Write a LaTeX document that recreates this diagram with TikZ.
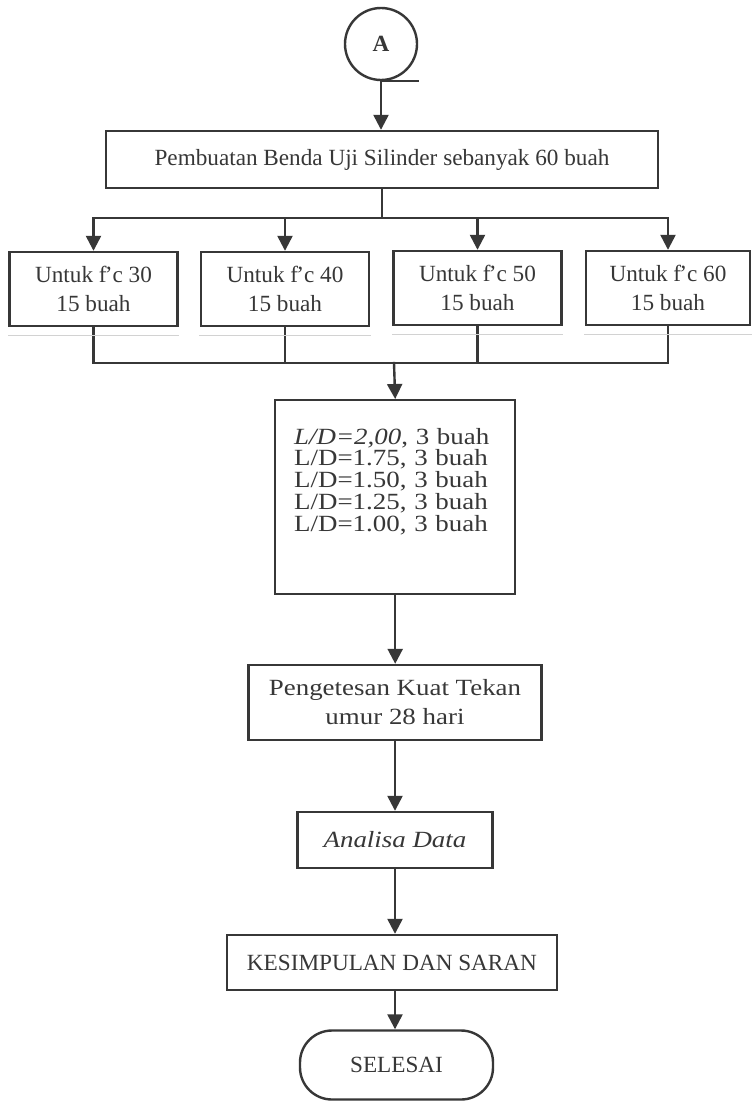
\documentclass[tikz,border=0pt]{standalone}
\usepackage{fontspec}
\setmainfont{Liberation Serif}
\newfontfamily\lebar{Liberation Serif}[FakeStretch=1.16]
\usetikzlibrary{arrows.meta}
\definecolor{tinta}{RGB}{55,55,55}
\newcommand{\fc}{f\kern-0.9pt’c}

\begin{document}
\begin{tikzpicture}[x=0.5pt,y=-0.5pt,color=tinta,line width=1.2pt,line cap=rect,
  kotak/.style={draw,rectangle,inner sep=0pt,align=center,font=\fontsize{11.6}{14.5}\selectfont},
  mutu/.style={kotak,minimum width=84pt,minimum height=37pt},
  panah/.style={-{Triangle[width=7.5pt,length=7.5pt]}},
  bayang/.style={draw=gray!35,line width=0.6pt}]
\fill[white] (0,0) rectangle (751,1102);
\useasboundingbox (0,0) rectangle (751,1102);
\node[draw,circle,minimum size=36pt,inner sep=0pt,font=\bfseries\fontsize{11.6}{14}\selectfont] (mulai) at (381,44) {A};
\node[kotak,minimum width=276pt,minimum height=28.5pt] (buat) at (382,159.5) {Pembuatan Benda Uji Silinder sebanyak 60 buah};
\node[mutu] (fc30) at (93.5,289) {Untuk \fc{} 30\\15 buah};
\node[mutu] (fc40) at (285,289) {Untuk \fc{} 40\\15 buah};
\node[mutu] (fc50) at (477.5,288) {Untuk \fc{} 50\\15 buah};
\node[mutu,minimum width=82pt] (fc60) at (668,288) {Untuk \fc{} 60\\15 buah};
\node[kotak,anchor=north west,align=left,text width=101pt,inner xsep=9.5pt,text height=22pt,text depth=75pt,
  font=\lebar\fontsize{11.6}{10.85}\selectfont] (rasio) at (274,399)
  {\textit{L/D=2,00}, 3 buah\\L/D=1.75, 3 buah\\L/D=1.50, 3 buah\\L/D=1.25, 3 buah\\L/D=1.00, 3 buah};
\node[kotak,minimum width=146.5pt,minimum height=37.5pt,font=\lebar\fontsize{11.6}{14.5}\selectfont] (uji) at (395,702.5) {Pengetesan Kuat Tekan\\umur 28 hari};
\node[kotak,minimum width=97.5pt,minimum height=28pt,font=\lebar\itshape\fontsize{11.6}{14.5}\selectfont] (analisa) at (395,840) {Analisa Data};
\node[kotak,minimum width=165pt,minimum height=27.5pt] (simpulan) at (392,962.5) {KESIMPULAN DAN SARAN};
\node[kotak,rounded corners=16pt,minimum width=96.5pt,minimum height=34.5pt] (selesai) at (396.5,1065) {SELESAI};
\coordinate (bagi) at (382,218);
\coordinate (gabung) at (394,363);
\draw (mulai.south) -- (mulai.south -| mulai.east);
\draw[panah] (mulai.south) -- (mulai.south |- buat.north);
\draw (buat.south) -- (bagi);
\draw (fc30.north |- bagi) -- (fc60.north |- bagi);
\foreach \k in {fc30,fc40,fc50,fc60}{
  \draw[panah] (\k.north |- bagi) -- (\k.north);
  \draw (\k.south) -- (\k.south |- gabung);
  \draw[bayang] ([yshift=-4pt]\k.south west) -- ([yshift=-4pt]\k.south east);
}
\draw (fc30.south |- gabung) -- (fc60.south |- gabung);
\draw[panah] (gabung) -- (rasio.north);
\draw[panah] (rasio.south) -- (rasio.south |- uji.north);
\draw[panah] (uji.south) -- (uji.south |- analisa.north);
\draw[panah] (analisa.south) -- (analisa.south |- simpulan.north);
\draw[panah] (analisa.south |- simpulan.south) -- (analisa.south |- selesai.north);
\end{tikzpicture}
\end{document}
